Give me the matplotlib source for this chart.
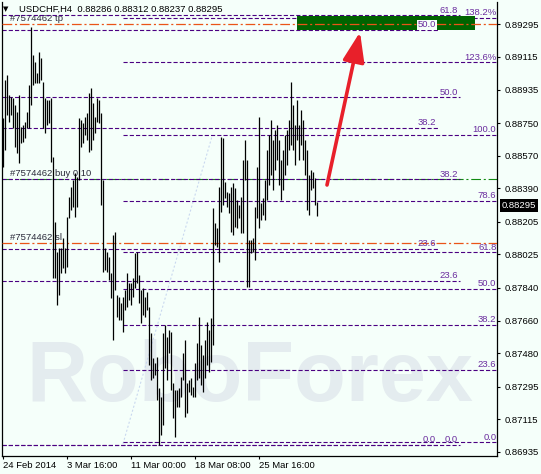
import matplotlib
matplotlib.use('Agg')
import matplotlib.pyplot as plt
from matplotlib.patches import Rectangle
from matplotlib.transforms import blended_transform_factory

plt.rcParams['font.family'] = ['Liberation Sans', 'DejaVu Sans']
plt.rcParams['lines.scale_dashes'] = False
plt.rcParams['font.size'] = 6.8

BG = '#F5FFFA'
FIB_LINE = '#4b0082'
FIB_TEXT = '#6a2c9e'

# ---------------- data ----------------
header = "USDCHF,H4  0.88286 0.88312 0.88237 0.88295"

highs = [
    0.88778, 0.88988, 0.89015, 0.88905, 0.88894, 0.88888, 0.88850, 0.88811, 0.88905, 0.88728,
    0.88739, 0.88756, 0.88811, 0.88960, 0.89280, 0.89126, 0.89087, 0.89026, 0.89142, 0.89109,
    0.88977, 0.88888, 0.88877, 0.88877, 0.88888, 0.88563, 0.88204, 0.88039, 0.88061, 0.88061,
    0.88116, 0.88061, 0.88232, 0.88342, 0.88397, 0.88436, 0.88474, 0.88452, 0.88778, 0.88767,
    0.88750, 0.88783, 0.88806, 0.88916, 0.88943, 0.88861, 0.88783, 0.88888, 0.88877, 0.88806,
    0.88436, 0.88061, 0.88039, 0.88011, 0.87923, 0.88132, 0.88149, 0.87801, 0.87790, 0.87757,
    0.87790, 0.87829, 0.87923, 0.87868, 0.87868, 0.87895, 0.88033, 0.88039, 0.87912, 0.87829,
    0.87841, 0.87790, 0.87818, 0.87735, 0.87592, 0.87454, 0.87426, 0.87459, 0.87288, 0.87238,
    0.87592, 0.87636, 0.87569, 0.87608, 0.87597, 0.87316, 0.87277, 0.87277, 0.87288, 0.87349,
    0.87481, 0.87553, 0.87316, 0.87332, 0.87343, 0.87293, 0.87426, 0.87536, 0.87680, 0.87525,
    0.87470, 0.87553, 0.87652, 0.87608, 0.87674, 0.88281, 0.88199, 0.88171, 0.88397, 0.88673,
    0.88668, 0.88425, 0.88370, 0.88364, 0.88397, 0.88419, 0.88392, 0.88325, 0.88298, 0.88342,
    0.88546, 0.88657, 0.88546, 0.88105, 0.88105, 0.88116, 0.88287, 0.88507, 0.88783, 0.88309,
    0.88336, 0.88436, 0.88601, 0.88684, 0.88767, 0.88657, 0.88712, 0.88739, 0.88657, 0.88546,
    0.88601, 0.88684, 0.88712, 0.88767, 0.88977, 0.88850, 0.88739, 0.88877, 0.88739, 0.88822,
    0.88767, 0.88657, 0.88601, 0.88463, 0.88491, 0.88480, 0.88447, 0.88312]

lows = [
    0.88507, 0.88601, 0.88794, 0.88756, 0.88794, 0.88723, 0.88618, 0.88585, 0.88530, 0.88640,
    0.88646, 0.88668, 0.88723, 0.88723, 0.88850, 0.88960, 0.88971, 0.88971, 0.88971, 0.88988,
    0.88723, 0.88695, 0.88739, 0.88750, 0.88535, 0.87895, 0.87895, 0.87746, 0.87801, 0.87923,
    0.87951, 0.87923, 0.87956, 0.88226, 0.88270, 0.88287, 0.88232, 0.88287, 0.88436, 0.88618,
    0.88640, 0.88684, 0.88657, 0.88590, 0.88601, 0.88657, 0.88695, 0.88756, 0.88750, 0.88298,
    0.87928, 0.87939, 0.87928, 0.87884, 0.87785, 0.87553, 0.87829, 0.87680, 0.87663, 0.87663,
    0.87597, 0.87719, 0.87735, 0.87774, 0.87746, 0.87790, 0.87841, 0.87868, 0.87757, 0.87647,
    0.87691, 0.87680, 0.87719, 0.87415, 0.87332, 0.87343, 0.87360, 0.87222, 0.86974, 0.87029,
    0.87084, 0.87398, 0.87332, 0.87481, 0.87277, 0.87122, 0.87018, 0.87183, 0.87183, 0.87238,
    0.87332, 0.87128, 0.87150, 0.87266, 0.87249, 0.87238, 0.87238, 0.87332, 0.87343, 0.87305,
    0.87266, 0.87343, 0.87415, 0.87376, 0.87432, 0.87525, 0.88077, 0.88066, 0.87983, 0.88259,
    0.88298, 0.88336, 0.88287, 0.88254, 0.88149, 0.88132, 0.88176, 0.88171, 0.88226, 0.88143,
    0.88143, 0.88436, 0.87846, 0.87846, 0.88033, 0.88039, 0.87994, 0.88226, 0.88171, 0.88215,
    0.88243, 0.88215, 0.88325, 0.88408, 0.88463, 0.88381, 0.88491, 0.88546, 0.88408, 0.88325,
    0.88381, 0.88463, 0.88519, 0.88601, 0.88629, 0.88601, 0.88519, 0.88657, 0.88546, 0.88629,
    0.88546, 0.88463, 0.88270, 0.88243, 0.88381, 0.88392, 0.88298, 0.88237]

time_tick_idx = [0, 32, 64, 96, 128]
time_tick_labels = ["24 Feb 2014", "3 Mar 16:00", "11 Mar 00:00", "18 Mar 08:00", "25 Mar 16:00"]
price_ticks = [0.89295, 0.89115, 0.88935, 0.88750, 0.88570, 0.88390, 0.88205,
               0.88025, 0.87840, 0.87660, 0.87480, 0.87295, 0.87115, 0.86935]
current_price = 0.88295

order_id = "#7574462"
tp_price = 0.89297
buy_price = 0.88440
sl_price = 0.88088

# Fibonacci sets: 0% price, 100% price, visible levels, labels
fibA_p0, fibA_p100 = 0.86974, 0.90809
fibA_levels = [0.0, 23.6, 38.2, 50.0, 61.8]
fibA_labels = ["0.0", "23.6", "38.2", "50.0", "61.8"]
fibB_p0, fibB_p100 = 0.86974, 0.91552
fibB_levels = [0.0, 23.6, 38.2, 50.0]
fibB_labels = ["0.0", "23.6", "38.2", "50.0"]
fibC_p0, fibC_p100 = 0.86988, 0.88684
fibC_levels = [0.0, 23.6, 38.2, 50.0, 61.8, 78.6, 100.0, 123.6, 138.2]
fibC_labels = ["0.0", "23.6", "38.2", "50.0", "61.8", "78.6", "100.0", "123.6%", "138.2%"]

# target zone and arrow
zone_low, zone_high = 0.89265, 0.89340
zone_start, zone_end = 147, 236
arrow_from = (162, 0.88408)
arrow_to = (178.5, 0.89252)
trend_from = (60, 0.86980)
trend_to = (104.5, 0.88676)

# ---------------- figure ----------------
W, H = 541, 474
fig = plt.figure(figsize=(W / 100, H / 100), dpi=100, facecolor=BG)
ax = fig.add_axes([2 / W, 18.3 / H, 495 / W, (455.7 - 2) / H])
ax.set_facecolor(BG)
XMIN, XMAX = -0.5, 247
ax.set_xlim(XMIN, XMAX)
ax.set_ylim(0.86914, 0.89418)

# watermark
ax.text(0.5, 0.17, "RoboForex", transform=ax.transAxes, fontsize=61, fontweight='bold',
        color='#e4ecef', ha='center', va='center', zorder=0,
        family=['Liberation Sans', 'DejaVu Sans'])

fibdash = (0, (3, 1.5))

def draw_fib(p0, p100, levels, labels, x0, x1, lab_x):
    for lv, lb in zip(levels, labels):
        p = p0 + (p100 - p0) * lv / 100.0
        ax.hlines(p, x0, x1, colors=FIB_LINE, linestyles=[fibdash], lw=0.8, zorder=2)
        ax.text(lab_x, p + 0.00004, lb, color=FIB_TEXT, ha='right', va='bottom',
                fontsize=6.8, zorder=4)

draw_fib(fibA_p0, fibA_p100, fibA_levels, fibA_labels, XMIN, 228.5, 227.5)
draw_fib(fibB_p0, fibB_p100, fibB_levels, fibB_labels, XMIN, 217.5, 216.5)
draw_fib(fibC_p0, fibC_p100, fibC_levels, fibC_labels, 60, XMAX, 246.7)

# trend line of the fib
ax.plot([trend_from[0], trend_to[0]], [trend_from[1], trend_to[1]],
        color='#c9d8ef', lw=0.8, ls=(0, (1.5, 1.5)), zorder=1)

# order lines
orange_dd = (0, (7, 2, 1.5, 2))
ax.hlines(tp_price, XMIN, XMAX, colors='#ea5418', linestyles=[orange_dd], lw=0.9, zorder=3)
ax.hlines(sl_price, XMIN, XMAX, colors='#ea5418', linestyles=[orange_dd], lw=0.9, zorder=3)
ax.hlines(buy_price + 0.00003, XMIN, XMAX, colors='#118a11', linestyles=[orange_dd], lw=0.8, zorder=1.5)
txtc = '#2a2a3a'
ax.text(3.5, tp_price + 0.00005, order_id + " tp", color=txtc, va='bottom', ha='left', zorder=1)
ax.text(3.5, buy_price + 0.00008, order_id + " buy 0.10", color=txtc, va='bottom', ha='left', zorder=4)
ax.text(3.5, sl_price + 0.00008, order_id + " sl", color=txtc, va='bottom', ha='left', zorder=4)

# target zone
ax.add_patch(Rectangle((zone_start, zone_low), zone_end - zone_start, zone_high - zone_low,
                       facecolor='#006400', edgecolor='none', zorder=2.5))
pB50 = fibB_p0 + (fibB_p100 - fibB_p0) * 0.5
ax.text(216.5, pB50 + 0.00004, "50.0", color=FIB_TEXT, ha='right', va='bottom', fontsize=6.8,
        zorder=5, bbox=dict(facecolor=BG, edgecolor='none', pad=0.6))

# bars
x = list(range(len(highs)))
ax.vlines(x, lows, highs, colors='black', lw=0.9, zorder=6)

# arrow
ax.annotate("", xy=arrow_to, xytext=arrow_from,
            arrowprops=dict(arrowstyle="-|>,head_length=1.5,head_width=0.55",
                            mutation_scale=12, color='#e8202a', lw=2.6, shrinkA=0, shrinkB=0),
            zorder=7)

# axes styling
ax.spines['top'].set_visible(False)
for s in ['left', 'right', 'bottom']:
    ax.spines[s].set_color('black')
    ax.spines[s].set_linewidth(0.9)
ax.yaxis.tick_right()
ax.set_yticks(price_ticks)
ax.set_yticklabels([f"{p:.5f}" for p in price_ticks])
ax.tick_params(axis='y', direction='out', length=2.5, width=0.8, pad=3, labelsize=6.8, colors='black')
ax.set_xticks(time_tick_idx)
ax.set_xticklabels(time_tick_labels, ha='left')
ax.tick_params(axis='x', direction='out', length=2.2, width=0.8, pad=1.8, labelsize=6.8, colors='black')

# current price tag
tr = blended_transform_factory(fig.transFigure, ax.transData)
ax.text(502 / W, current_price, "0.88295", transform=tr, color='white', fontsize=6.8,
        ha='left', va='center', zorder=10,
        bbox=dict(facecolor='black', edgecolor='none', pad=1.2), clip_on=False)

# header
fig.text(3 / W, 1 - 9.5 / H, "\u25bc", fontsize=5, family=['DejaVu Sans'], va='center', ha='left')
fig.text(19 / W, 1 - 9.5 / H, header, fontsize=6.8, va='center', ha='left', color='black')

fig.savefig('out.png', dpi=100, facecolor=BG)
